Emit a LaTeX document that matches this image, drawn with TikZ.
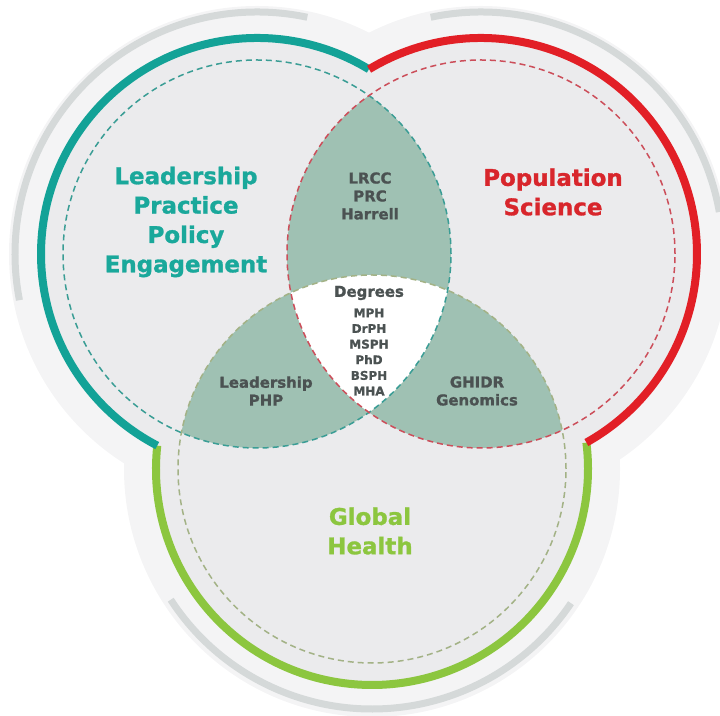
\documentclass[tikz,border=0pt]{standalone}
\usepackage{fontspec}
\setmainfont{DejaVu Sans}[BoldFeatures={FakeBold=1.2}]
\usepackage{xcolor}
\usetikzlibrary{positioning}

\definecolor{palegrey}{HTML}{F4F4F5}
\definecolor{ringgrey}{HTML}{D5D9D9}
\definecolor{innergrey}{HTML}{EBEBED}
\definecolor{lensgreen}{HTML}{9FC1B3}
\definecolor{labgrey}{HTML}{4B5252}
\definecolor{lppteal}{HTML}{13A297}
\definecolor{popred}{HTML}{E21F26}
\definecolor{globgreen}{HTML}{8CC63F}
\definecolor{lppdash}{HTML}{3A9D95}
\definecolor{popdash}{HTML}{CC4E5A}
\definecolor{globdash}{HTML}{A3B286}
\definecolor{lpptext}{HTML}{1AA89B}
\definecolor{poptext}{HTML}{D8262C}

\begin{document}
\begin{tikzpicture}[x=1bp,y=1bp,
    bigtxt/.style={font=\bfseries\fontsize{23}{29.5}\selectfont, align=center},
    smalltxt/.style={font=\bfseries\fontsize{15}{18}\selectfont, text=labgrey, align=center},
    ringarc/.style={line width=8bp},
    greyarc/.style={line width=7bp, draw=ringgrey},
    dashring/.style={dash pattern=on 6bp off 4bp, line width=1.5bp}]

    \useasboundingbox (0,0) rectangle (720,716);
    \clip (0,0) rectangle (720,716);

    % circle centres
    \coordinate (lpp) at (257,462);
    \coordinate (pop) at (481,462);
    \coordinate (glob) at (372,247);

    % pale outer discs and grey rims
    \foreach \c in {lpp,pop,glob}
        \fill[palegrey] (\c) circle (248bp);
    \draw[greyarc] (lpp) ++(78:242bp) arc[start angle=78, end angle=191, radius=242bp];
    \draw[greyarc] (pop) ++(102:242bp) arc[start angle=102, end angle=10, radius=242bp];
    \draw[greyarc] (glob) ++(213:240bp) arc[start angle=213, end angle=326, radius=240bp];

    % inner discs
    \foreach \c in {lpp,pop,glob}
        \fill[innergrey] (\c) circle (216bp);

    % coloured rings
    \draw[ringarc, draw=globgreen] (glob) ++(173.8:216bp) arc[start angle=173.8, end angle=367, radius=216bp];
    \draw[ringarc, draw=lppteal] (lpp) ++(58.8:216bp) arc[start angle=58.8, end angle=242.5, radius=216bp];
    \draw[ringarc, draw=popred] (pop) ++(121.2:216bp) arc[start angle=121.2, end angle=-60.8, radius=216bp];

    % overlaps
    \begin{scope}
        \clip (lpp) circle (194bp);
        \fill[lensgreen] (pop) circle (194bp);
        \fill[lensgreen] (glob) circle (194bp);
    \end{scope}
    \begin{scope}
        \clip (pop) circle (194bp);
        \fill[lensgreen] (glob) circle (194bp);
    \end{scope}
    \begin{scope}
        \clip (lpp) circle (194bp);
        \clip (pop) circle (194bp);
        \fill[white] (glob) circle (194bp);
    \end{scope}

    % dashed circles
    \draw[dashring, draw=globdash] (glob) circle (194bp);
    \draw[dashring, draw=lppdash] (lpp) circle (194bp);
    \draw[dashring, draw=popdash] (pop) circle (194bp);

    % labels
    \node[bigtxt, text=lpptext] (lpplabel) at (186,494) {Leadership\\Practice\\Policy\\Engagement};
    \node[bigtxt, text=poptext] (poplabel) at (553,524) {Population\\Science};
    \node[bigtxt, text=globgreen] (globlabel) at (370,185) {Global\\Health};
    \node[smalltxt] (lrcc) at (370,520) {LRCC\\PRC\\Harrell};
    \node[smalltxt] (lphp) at (266,325) {Leadership\\PHP};
    \node[smalltxt] (ghidr) at (477,325) {GHIDR\\Genomics};
    \node[smalltxt] (degrees) at (369,423) {Degrees};
    \node[smalltxt, font=\bfseries\fontsize{12}{15.7}\selectfont] (deglist) at (369,364) {MPH\\DrPH\\MSPH\\PhD\\BSPH\\MHA};
\end{tikzpicture}
\end{document}
